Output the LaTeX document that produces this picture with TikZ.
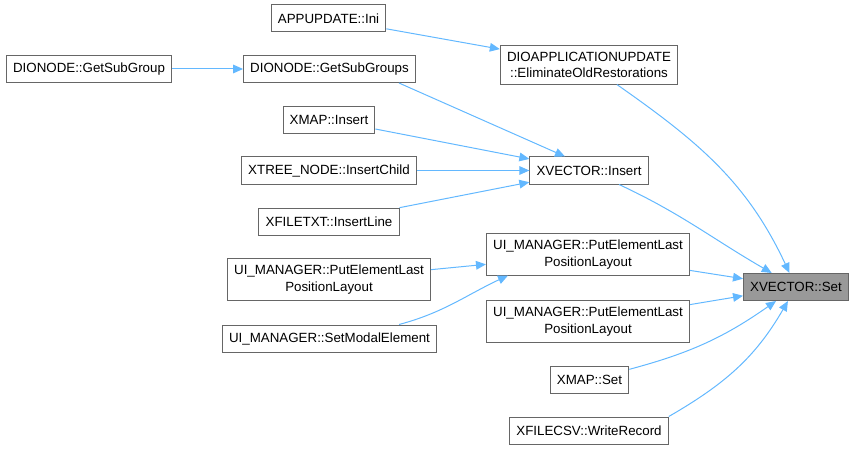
\documentclass[tikz,border=0pt]{standalone}
\usepackage{fontspec}
\setmainfont{Liberation Sans}
\usetikzlibrary{arrows.meta}
\definecolor{edgeblue}{HTML}{63B8FF}
\definecolor{boxgray}{HTML}{666666}
\definecolor{focusgray}{HTML}{999999}

\begin{document}
\begin{tikzpicture}[
  x=0.75pt, y=-0.75pt,
  >={Triangle[length=7.5pt,width=6.5pt]},
  fn/.style={draw=boxgray, line width=0.75pt, fill=white, minimum height=20.25pt,
              inner xsep=5pt, inner ysep=4.5pt, align=center,
              font=\fontsize{10}{12.5}\selectfont},
  focus/.style={fn, fill=focusgray},
  call/.style={->, draw=edgeblue, line width=0.75pt},
]
\useasboundingbox (0,0) rectangle (856,449);

\node[fn] (gsg) at (89,69) {DIONODE::GetSubGroup};
\node[fn] (appini) at (328.5,18.5) {APPUPDATE::Ini};
\node[fn] (gsgs) at (329.5,69) {DIONODE::GetSubGroups};
\node[fn] (xmapins) at (329,120) {XMAP::Insert};
\node[fn] (xtreeins) at (329,170.5) {XTREE\_NODE::InsertChild};
\node[fn] (xfileins) at (329,221.5) {XFILETXT::InsertLine};
\node[fn] (uileft) at (329,279.5) {UI\_MANAGER::PutElementLast\\PositionLayout};
\node[fn] (modal) at (329.5,338.5) {UI\_MANAGER::SetModalElement};

\node[fn] (dioelim) at (589,65) {DIOAPPLICATIONUPDATE\\::EliminateOldRestorations};
\node[fn] (vins) at (589,170.5) {XVECTOR::Insert};
\node[fn] (uitop) at (588,254.5) {UI\_MANAGER::PutElementLast\\PositionLayout};
\node[fn] (uibot) at (588,321.5) {UI\_MANAGER::PutElementLast\\PositionLayout};
\node[fn] (xmapset) at (589.5,380) {XMAP::Set};
\node[fn] (wrec) at (589,430.5) {XFILECSV::WriteRecord};

\node[focus] (vset) at (796,287) {XVECTOR::Set};

\draw[call] (gsg) -- (gsgs);
\draw[call] (appini) -- (dioelim);
\draw[call] ([xshift=-12.75pt]gsgs.south east) -- ([xshift=-18pt]vins.north);
\draw[call] (xmapins) -- (vins);
\draw[call] (xtreeins) -- (vins);
\draw[call] (xfileins) -- (vins);
\draw[call] (uileft) -- (uitop);
\draw[call] ([xshift=-28.5pt]modal.north east) to[out=15,in=-155] ([xshift=-60pt]uitop.south);
\draw[call] (dioelim) to[out=-35,in=115] (vset);
\draw[call] (vins) to[out=-25,in=150] (vset);
\draw[call] (uitop) -- (vset);
\draw[call] (uibot) -- (vset);
\draw[call] (xmapset) to[out=15,in=-145] (vset);
\draw[call] (wrec.north east) to[out=30,in=-120] (vset);

\end{tikzpicture}
\end{document}
